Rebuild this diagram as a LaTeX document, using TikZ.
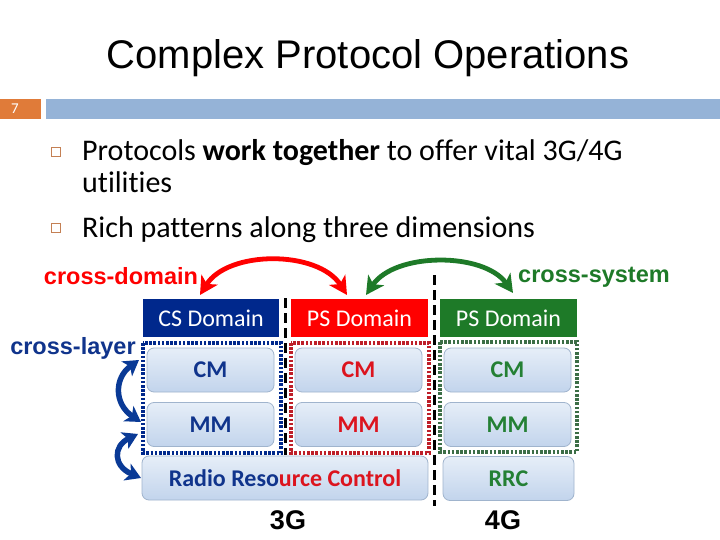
\documentclass[tikz,border=0pt]{standalone}
\usepackage{fontspec}
\setmainfont{Liberation Sans}
\newfontfamily\calfont[Ligatures={NoCommon,NoContextual}]{Carlito}
\usetikzlibrary{arrows.meta}
\definecolor{numorange}{RGB}{224,123,57}
\definecolor{barblue}{RGB}{149,179,215}
\definecolor{bulletc}{RGB}{196,128,84}
\definecolor{dkblue}{RGB}{0,40,140}
\definecolor{txblue}{RGB}{16,52,140}
\definecolor{arblue}{RGB}{10,58,150}
\definecolor{brred}{RGB}{255,0,0}
\definecolor{txred}{RGB}{220,20,30}
\definecolor{dotred}{RGB}{190,30,40}
\definecolor{dkgreen}{RGB}{30,122,40}
\definecolor{txgreen}{RGB}{36,128,52}
\definecolor{dotgreen}{RGB}{60,110,70}
\definecolor{boxtop}{RGB}{230,238,248}
\definecolor{boxbot}{RGB}{194,212,236}
\definecolor{boxborder}{RGB}{160,180,205}
\begin{document}
\begin{tikzpicture}[x=1pt,y=-1pt,
  dombox/.style={minimum width=#1, minimum height=38pt, inner sep=0pt, text=white, font=\calfont\fontsize{24}{28}\selectfont},
  layerbox/.style={draw=boxborder, line width=0.8pt, rounded corners=7pt, top color=boxtop, bottom color=boxbot, minimum width=#1, minimum height=44pt, inner sep=0pt, font=\calfont\bfseries\fontsize{24}{28}\selectfont},
  dotbox/.style={line width=3.2pt, dash pattern=on 2.6pt off 1.6pt},
  vdash/.style={line width=3pt, dash pattern=on 10pt off 5pt, black},
  bigarrow/.style={line width=4.8pt, {Stealth[length=18pt,width=19pt,inset=5pt]}-{Stealth[length=18pt,width=19pt,inset=5pt]}},
  layerarrow/.style={line width=5.5pt, arblue, {Stealth[length=15pt,width=18pt,inset=4pt]}-{Stealth[length=15pt,width=18pt,inset=4pt]}},
  dimlabel/.style={font=\bfseries\fontsize{23.5}{26}\selectfont},
  bodytext/.style={anchor=base west, inner sep=0pt, font=\calfont\fontsize{30}{32}\selectfont},
  bulletbox/.style={draw=bulletc, line width=1.3pt, minimum size=9pt, inner sep=0pt}
]
\useasboundingbox (0,0) rectangle (720,540);
\fill[white] (0,0) rectangle (720,540);
% title
\node (title) at (368,58) {\fontsize{40}{44}\selectfont Complex Protocol Operations};
% header bar
\node[fill=numorange, minimum width=41pt, minimum height=20pt, inner sep=0pt, anchor=north west] (num) at (0,99) {};
\node[text=white, font=\calfont\fontsize{15}{17}\selectfont] (numtxt) at (15,109) {7};
\node[fill=barblue, minimum width=674pt, minimum height=20pt, inner sep=0pt, anchor=north west] (bar) at (46,99) {};
% bullets
\node[bulletbox] (b1) at (56,152) {};
\node[bulletbox] (b2) at (56,228) {};
\node[bodytext] (t1) at (82,161) {Protocols \textbf{work together} to offer vital 3G/4G};
\node[bodytext] (t2) at (82,193) {utilities};
\node[bodytext] (t3) at (82,237) {Rich patterns along three dimensions};
% dimension labels
\node[dimlabel, text=brred] (cdom) at (121,276) {cross-domain};
\node[dimlabel, text=dkgreen] (csys) at (594,277) {cross-system};
\node[dimlabel, text=txblue] (clay) at (73,348) {cross-layer};
% domain headers
\node[dombox=136pt, fill=dkblue] (cs) at (211,318) {CS Domain};
\node[dombox=137pt, fill=brred] (ps3) at (359.5,318) {PS Domain};
\node[dombox=137pt, fill=dkgreen] (ps4) at (508.5,318) {PS Domain};
% dotted groups
\draw[dotbox, dkblue] (143,343) rectangle (281,453);
\draw[dotbox, dotred] (291,343) rectangle (429,453);
\draw[dotbox, dotgreen] (440,342) rectangle (577,452);
% layer boxes
\node[layerbox=127pt, text=txblue] (cm1) at (210.5,370) {CM};
\node[layerbox=127pt, text=txred] (cm2) at (358.5,370) {CM};
\node[layerbox=127pt, text=txgreen] (cm3) at (507.5,370) {CM};
\node[layerbox=127pt, text=txblue] (mm1) at (210.5,424.5) {MM};
\node[layerbox=127pt, text=txred] (mm2) at (358.5,424.5) {MM};
\node[layerbox=127pt, text=txgreen] (mm3) at (507.5,424.5) {MM};
\node[layerbox=286pt] (rrc3) at (285,478) {\textcolor{txblue}{Radio Reso}\textcolor{txred}{urce Control}};
\node[layerbox=131pt, text=txgreen] (rrc4) at (508.5,478.5) {RRC};
% separators
\draw[vdash] (285,298) -- (285,455);
\draw[vdash] (434,275) -- (434,506);
% system labels
\node[font=\bfseries\fontsize{27}{30}\selectfont] (g3) at (288,520) {3G};
\node[font=\bfseries\fontsize{27}{30}\selectfont] (g4) at (503,520) {4G};
% cross-domain arrow
\coordinate (rA) at (200,295);
\coordinate (rB) at (347,295);
\draw[bigarrow, brred] (rA) .. controls (228,250) and (318,250) .. (rB);
% cross-system arrow
\coordinate (gA) at (366,295);
\coordinate (gB) at (513,293);
\draw[bigarrow, dkgreen] (gA) .. controls (395,252) and (484,252) .. (gB);
% cross-layer arrows
\coordinate (l1) at (139,360);
\coordinate (l2) at (141,422);
\coordinate (l3) at (138,434);
\coordinate (l4) at (141,478);
\draw[layerarrow] (l1) .. controls (114,378) and (114,404) .. (l2);
\draw[layerarrow] (l3) .. controls (113,446) and (113,466) .. (l4);
\end{tikzpicture}
\end{document}
